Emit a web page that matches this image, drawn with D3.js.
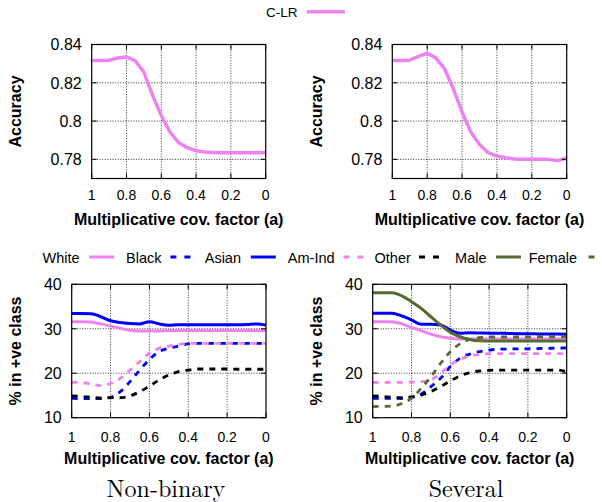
<!DOCTYPE html>
<html><head><meta charset="utf-8">
<script src="https://cdn.jsdelivr.net/npm/d3@7"></script>
<style>body{margin:0;background:#fff} svg{display:block}</style>
</head><body>
<svg id="c" width="602" height="502"></svg>
<script>
// ---------- data ----------
const xVals = [1, 0.95, 0.9, 0.85, 0.8, 0.75, 0.7, 0.65, 0.6, 0.55, 0.5, 0.45, 0.4, 0.35, 0.3, 0.25, 0.2, 0.15, 0.1, 0.05, 0];
const xTicks = [1, 0.8, 0.6, 0.4, 0.2, 0];
const xTickLabels = ["1", "0.8", "0.6", "0.4", "0.2", "0"];
const accTicks = [0.78, 0.8, 0.82, 0.84];
const accTickLabels = ["0.78", "0.8", "0.82", "0.84"];
const pctTicks = [10, 20, 30, 40];
const pctTickLabels = ["10", "20", "30", "40"];

const accNonBinary = [0.8317, 0.8317, 0.8318, 0.8330, 0.8335, 0.8315, 0.8256, 0.8134, 0.8029, 0.7943, 0.7887, 0.7861, 0.7845, 0.7838, 0.7836, 0.7835, 0.7835, 0.7835, 0.7835, 0.7835, 0.7836];
const accSeveral   = [0.8317, 0.8317, 0.8318, 0.8338, 0.8355, 0.8330, 0.8273, 0.8169, 0.8047, 0.7943, 0.7878, 0.7835, 0.7817, 0.7808, 0.7802, 0.7800, 0.7800, 0.7800, 0.7800, 0.7793, 0.7807];

// Non-binary: % in +ve class
const nbWhite = [31.6, 31.6, 31.5, 31.1, 30.6, 30.1, 29.65, 29.5, 29.5, 29.5, 29.6, 29.6, 29.6, 29.6, 29.6, 29.6, 29.6, 29.6, 29.6, 29.6, 29.6];
const nbBlack = [14.35, 14.3, 14.3, 14.3, 14.6, 15.85, 18.1, 20.7, 23.1, 24.85, 25.6, 26.1, 26.6, 26.7, 26.7, 26.7, 26.7, 26.7, 26.7, 26.7, 26.7];
const nbAsian = [33.45, 33.45, 33.4, 32.7, 31.8, 31.4, 31.2, 31.1, 31.6, 31.1, 30.8, 30.9, 30.9, 30.9, 30.9, 30.9, 30.9, 30.9, 30.95, 31.1, 30.85];
const nbAmInd = [17.95, 17.9, 17.6, 17.2, 17.7, 18.85, 20.7, 22.6, 24.5, 25.6, 26.1, 26.5, 26.7, 26.7, 26.7, 26.7, 26.7, 26.7, 26.7, 26.7, 26.7];
const nbOther = [14.9, 14.8, 14.6, 14.4, 14.5, 14.5, 14.9, 15.85, 17.1, 18.5, 19.6, 20.35, 20.7, 20.95, 20.95, 20.95, 20.95, 20.9, 20.9, 20.9, 20.9];

// Several: % in +ve class
const svWhite  = [31.6, 31.6, 31.6, 31.1, 30.3, 29.6, 28.8, 28.2, 27.85, 27.7, 27.7, 27.7, 27.7, 27.7, 27.7, 27.7, 27.7, 27.7, 27.7, 27.7, 27.7];
const svBlack  = [14.35, 14.35, 14.35, 14.3, 14.6, 15.3, 17.0, 18.85, 21.5, 23.35, 24.3, 24.85, 25.2, 25.4, 25.45, 25.5, 25.5, 25.55, 25.6, 25.65, 25.7];
const svAsian  = [33.5, 33.5, 33.5, 32.9, 32.0, 31.0, 31.0, 30.85, 29.7, 29.0, 29.1, 29.05, 29.0, 29.0, 28.95, 28.9, 28.9, 28.85, 28.8, 28.8, 28.75];
const svAmInd  = [17.95, 17.95, 17.95, 17.95, 18.0, 18.1, 18.5, 20.0, 21.85, 23.1, 23.9, 24.25, 24.4, 24.4, 24.4, 24.4, 24.4, 24.4, 24.4, 24.4, 24.4];
const svOther  = [14.9, 14.8, 14.6, 14.5, 14.7, 15.1, 15.85, 17.0, 18.25, 19.4, 20.1, 20.5, 20.65, 20.7, 20.7, 20.7, 20.7, 20.7, 20.7, 20.7, 20.35];
const svMale   = [38.1, 38.1, 38.1, 37.4, 36.1, 34.6, 32.7, 30.85, 29.2, 28.2, 27.6, 27.3, 27.25, 27.25, 27.25, 27.25, 27.25, 27.25, 27.25, 27.25, 27.25];
const svFemale = [12.5, 12.55, 12.6, 13.2, 14.35, 16.6, 19.2, 22.2, 24.85, 26.6, 27.6, 28.0, 28.15, 28.15, 28.15, 28.15, 28.15, 28.2, 28.2, 28.2, 28.2];

const groupNames = ["White", "Black", "Asian", "Am-Ind", "Other", "Male", "Female"];

// ---------- styles ----------
const PINK = "#ee82ee", BLUE = "#0000ff", BLACK = "#000000", GREEN = "#556b2f";
const styles = {
  "C-LR":  {color: PINK,  dash: null,  width: 3.5},
  "White": {color: PINK,  dash: null,  width: 3},
  "Black": {color: BLUE,  dash: "6,6", width: 2.8},
  "Asian": {color: BLUE,  dash: null,  width: 3},
  "Am-Ind":{color: PINK,  dash: "6,6", width: 2.8},
  "Other": {color: BLACK, dash: "6,6", width: 2.8},
  "Male":  {color: GREEN, dash: null,  width: 3},
  "Female":{color: GREEN, dash: "6,6", width: 2.8}
};

const svg = d3.select("#c");
const SANS = "'Liberation Sans', Arial, Helvetica, sans-serif";

function panel(cfg) {
  const x = d3.scaleLinear().domain([1, 0]).range([cfg.left, cfg.right]);
  const y = d3.scaleLinear().domain(cfg.ydom).range([cfg.bottom, cfg.top]);
  const g = svg.append("g");

  // grid
  g.selectAll(".gx").data(xTicks.filter(t => t !== 1 && t !== 0)).enter().append("line")
    .attr("x1", d => x(d)).attr("x2", d => x(d)).attr("y1", cfg.top).attr("y2", cfg.bottom)
    .attr("stroke", "#000").attr("stroke-width", 0.8).attr("stroke-dasharray", "1,1.6");
  g.selectAll(".gy").data(cfg.yticks.filter(t => y(t) > cfg.top + 1 && y(t) < cfg.bottom - 1)).enter().append("line")
    .attr("x1", cfg.left).attr("x2", cfg.right).attr("y1", d => y(d)).attr("y2", d => y(d))
    .attr("stroke", "#000").attr("stroke-width", 0.8).attr("stroke-dasharray", "1,1.6");

  // series
  const line = d3.line().x((d, i) => x(xVals[i])).y(d => y(d)).curve(cfg.curve);
  cfg.series.forEach(s => {
    const st = styles[s.name];
    g.append("path").datum(s.values).attr("d", line).attr("fill", "none")
      .attr("stroke", st.color).attr("stroke-width", st.width)
      .attr("stroke-dasharray", st.dash).attr("stroke-linejoin", "round");
  });

  // frame
  g.append("rect").attr("x", cfg.left).attr("y", cfg.top)
    .attr("width", cfg.right - cfg.left).attr("height", cfg.bottom - cfg.top)
    .attr("fill", "none").attr("stroke", "#000").attr("stroke-width", 1.2);

  // ticks (inward, mirrored)
  const TL = 5;
  xTicks.forEach(t => {
    g.append("line").attr("x1", x(t)).attr("x2", x(t)).attr("y1", cfg.bottom).attr("y2", cfg.bottom - TL).attr("stroke", "#000");
    g.append("line").attr("x1", x(t)).attr("x2", x(t)).attr("y1", cfg.top).attr("y2", cfg.top + TL).attr("stroke", "#000");
  });
  cfg.yticks.forEach(t => {
    g.append("line").attr("x1", cfg.left).attr("x2", cfg.left + TL).attr("y1", y(t)).attr("y2", y(t)).attr("stroke", "#000");
    g.append("line").attr("x1", cfg.right).attr("x2", cfg.right - TL).attr("y1", y(t)).attr("y2", y(t)).attr("stroke", "#000");
  });

  // tick labels
  g.selectAll(".xl").data(xTicks).enter().append("text")
    .attr("x", d => x(d)).attr("y", cfg.bottom + cfg.xlabOff)
    .attr("text-anchor", "middle").attr("font-family", SANS).attr("font-size", 14).attr("fill", "#000")
    .text((d, i) => xTickLabels[i]);
  g.selectAll(".yl").data(cfg.yticks).enter().append("text")
    .attr("x", cfg.left - 10).attr("y", d => y(d)).attr("dy", "0.36em")
    .attr("text-anchor", "end").attr("font-family", SANS).attr("font-size", 16).attr("fill", "#000")
    .text((d, i) => cfg.ytickLabels[i]);

  // axis titles
  g.append("text").attr("x", (cfg.left + cfg.right) / 2).attr("y", cfg.bottom + cfg.xtitleOff)
    .attr("text-anchor", "middle").attr("font-family", SANS).attr("font-size", 16).attr("font-weight", "bold")
    .text("Multiplicative cov. factor (a)");
  const yc = (cfg.top + cfg.bottom) / 2, xc = cfg.left - cfg.ytitleOff;
  g.append("text").attr("transform", `translate(${xc},${yc}) rotate(-90)`)
    .attr("text-anchor", "middle").attr("font-family", SANS).attr("font-size", 16).attr("font-weight", "bold")
    .text(cfg.ylabel);
}

panel({left: 91.7, right: 265.7, top: 44.5, bottom: 178.5, ydom: [0.77, 0.84], yticks: accTicks, ytickLabels: accTickLabels,
  ylabel: "Accuracy", xlabOff: 21.5, xtitleOff: 46, ytitleOff: 70.5, curve: d3.curveLinear,
  series: [{name: "C-LR", values: accNonBinary}]});
panel({left: 392.3, right: 566.7, top: 44.5, bottom: 178.5, ydom: [0.77, 0.84], yticks: accTicks, ytickLabels: accTickLabels,
  ylabel: "Accuracy", xlabOff: 21.5, xtitleOff: 46, ytitleOff: 70.5, curve: d3.curveLinear,
  series: [{name: "C-LR", values: accSeveral}]});
panel({left: 71.7, right: 266, top: 284.3, bottom: 417.7, ydom: [10, 40], yticks: pctTicks, ytickLabels: pctTickLabels,
  ylabel: "% in +ve class", xlabOff: 23.8, xtitleOff: 46, ytitleOff: 50.7, curve: d3.curveMonotoneX,
  series: [
    {name: "White", values: nbWhite}, {name: "Black", values: nbBlack}, {name: "Asian", values: nbAsian},
    {name: "Am-Ind", values: nbAmInd}, {name: "Other", values: nbOther}]});
panel({left: 372.7, right: 566.7, top: 284.3, bottom: 417.7, ydom: [10, 40], yticks: pctTicks, ytickLabels: pctTickLabels,
  ylabel: "% in +ve class", xlabOff: 23.8, xtitleOff: 46, ytitleOff: 50.7, curve: d3.curveMonotoneX,
  series: [
    {name: "White", values: svWhite}, {name: "Black", values: svBlack}, {name: "Asian", values: svAsian},
    {name: "Am-Ind", values: svAmInd}, {name: "Other", values: svOther},
    {name: "Male", values: svMale}, {name: "Female", values: svFemale}]});

// ---------- legends ----------
svg.append("text").attr("x", 297.5).attr("y", 16.5).attr("text-anchor", "end")
  .attr("font-family", SANS).attr("font-size", 13.5).text("C-LR");
svg.append("line").attr("x1", 306.7).attr("x2", 345).attr("y1", 11.7).attr("y2", 11.7)
  .attr("stroke", styles["C-LR"].color).attr("stroke-width", 3.5);

const legTextEnd = [79.6, 161.5, 241, 334.6, 410.8, 486.5, 577];
const legSampleStart = [89.2, 170.4, 250.8, 343.5, 419, 496, 588.5];
groupNames.forEach((n, i) => {
  const st = styles[n];
  svg.append("text").attr("x", legTextEnd[i]).attr("y", 263).attr("text-anchor", "end")
    .attr("font-family", SANS).attr("font-size", 14.5).text(n);
  svg.append("line").attr("x1", legSampleStart[i]).attr("x2", legSampleStart[i] + 25)
    .attr("y1", 257).attr("y2", 257).attr("stroke", st.color).attr("stroke-width", 3)
    .attr("stroke-dasharray", st.dash ? "6,8" : null);
});

// ---------- captions ----------
const SERIF = "'Latin Modern Roman', 'CMU Serif', 'Liberation Serif', 'Times New Roman', serif";
svg.append("text").attr("x", 166).attr("y", 496.5).attr("text-anchor", "middle")
  .attr("font-family", SERIF).attr("font-size", 24).text("Non-binary");
svg.append("text").attr("x", 466).attr("y", 496.5).attr("text-anchor", "middle")
  .attr("font-family", SERIF).attr("font-size", 24).text("Several");
</script>
</body></html>
